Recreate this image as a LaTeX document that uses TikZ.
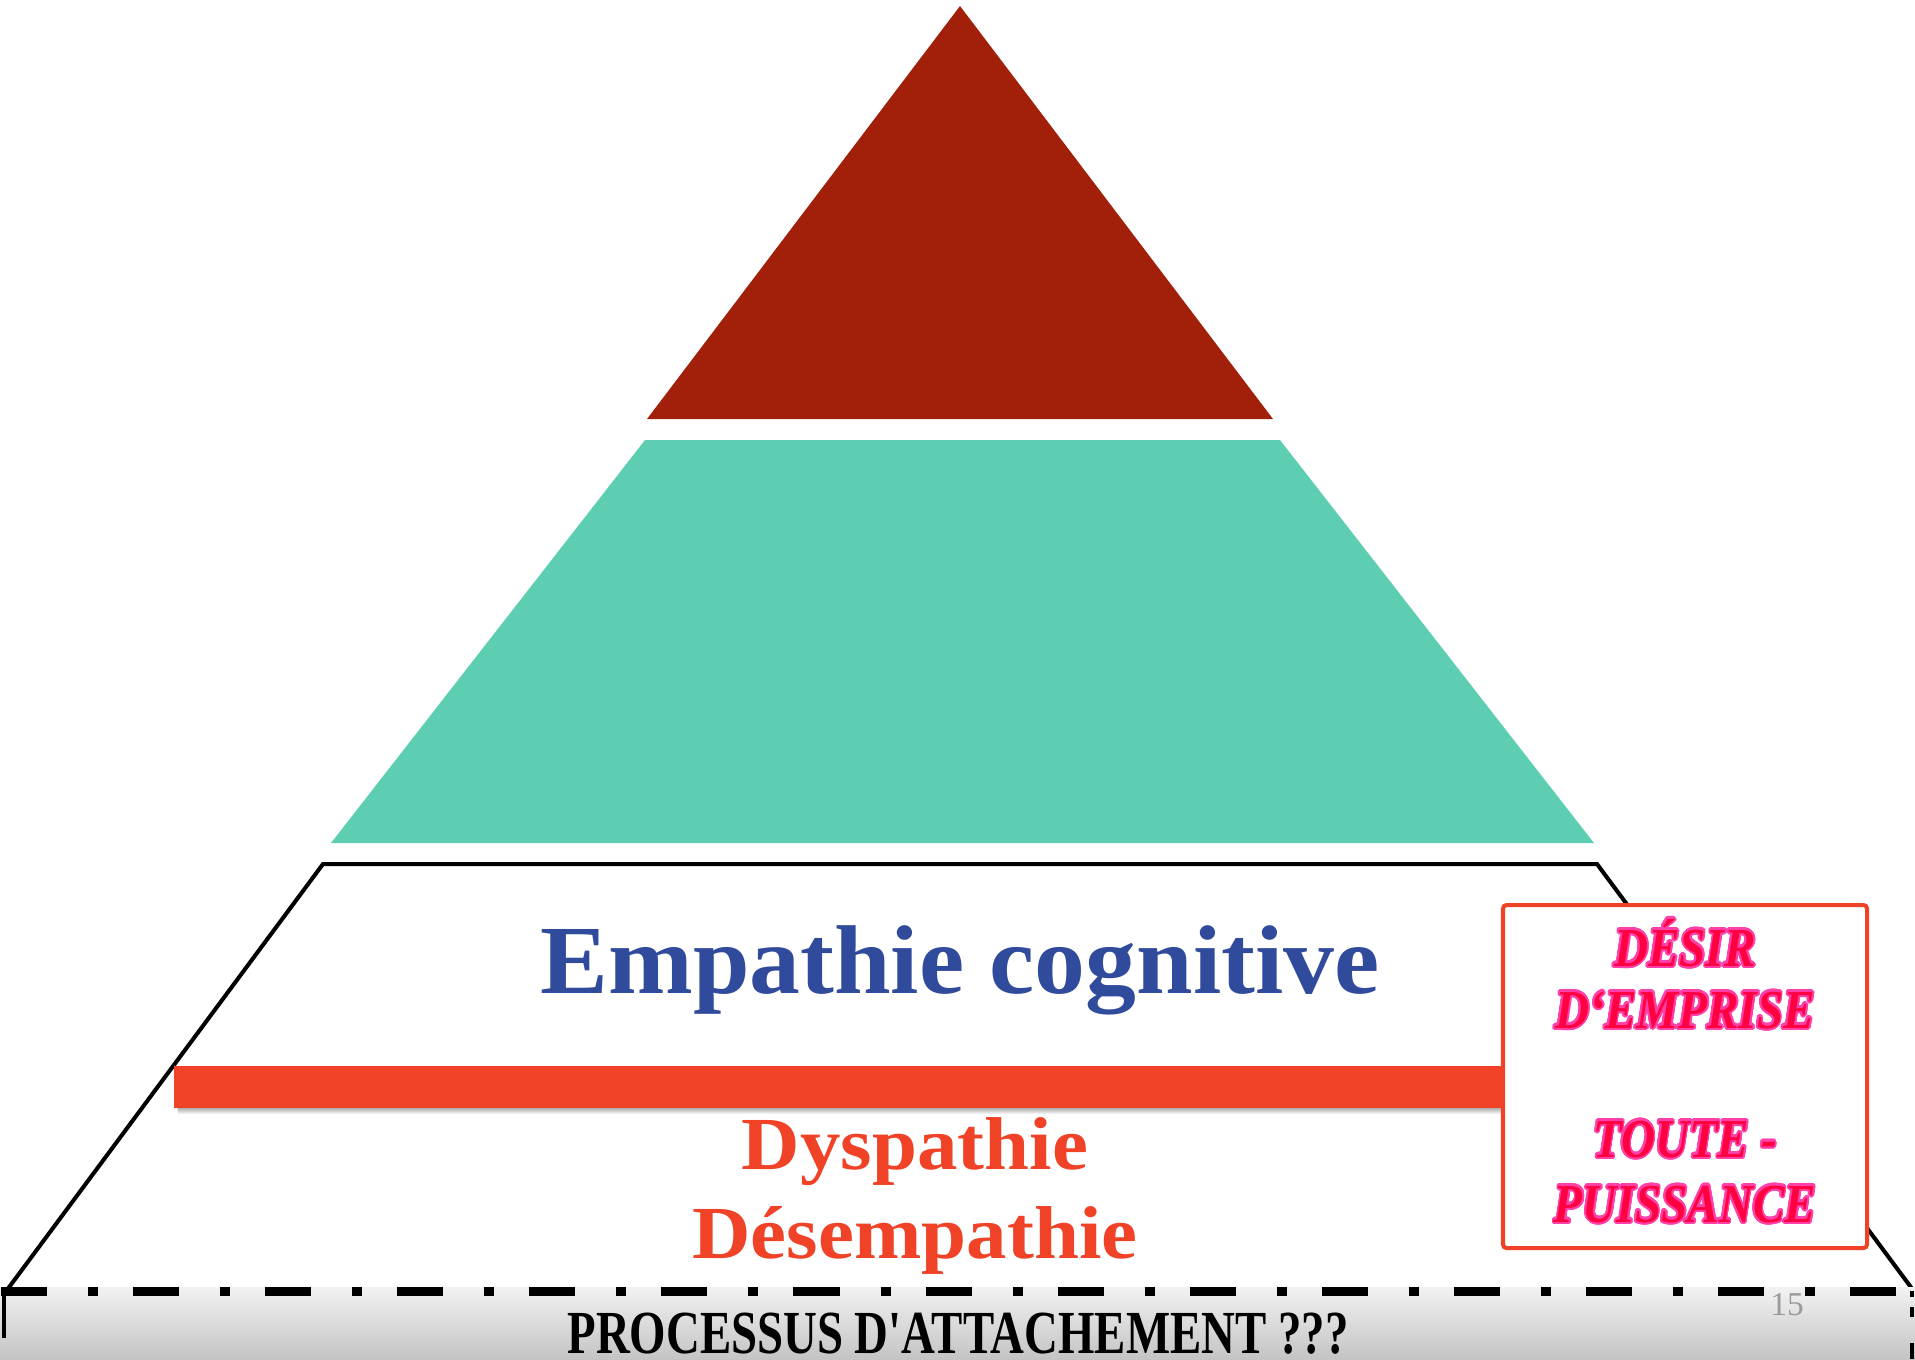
\documentclass[tikz,border=0pt]{standalone}
\usepackage{fontspec}
\setmainfont{Liberation Serif}
\newfontfamily\footfont{Liberation Serif}[Ligatures=TeXOff]
\usepackage{contour}
\contourlength{0.6pt}
\contournumber{24}
\definecolor{apexred}{HTML}{A21F0A}
\definecolor{teal}{HTML}{5ECEB2}
\definecolor{barred}{HTML}{EF4226}
\definecolor{titleblue}{HTML}{304A9C}
\definecolor{boxred}{HTML}{FF0040}
\definecolor{boxpink}{HTML}{FF40A8}
\definecolor{numgray}{HTML}{9A9A9A}
\tikzset{
  outline/.style={draw=black, line width=1.15pt, line join=miter},
  bigtitle/.style={text=titleblue, font=\fontsize{27.8pt}{33pt}\selectfont\bfseries, xscale=1.04, anchor=base, inner sep=0pt},
  redtitle/.style={text=barred, font=\fontsize{21.3pt}{25pt}\selectfont\bfseries, xscale=1.08, anchor=base, inner sep=0pt},
  boxtxt/.style={text=boxred, font=\fontsize{15.6pt}{18pt}\selectfont\bfseries\itshape, xscale=0.86, anchor=base, inner sep=0pt},
  foottxt/.style={text=black, font=\footfont\fontsize{17.4pt}{20pt}\selectfont\bfseries, xscale=0.765, anchor=base, inner sep=0pt},
  dashdot/.style={line width=2.56pt, dash pattern=on 0.46cm off 0.41cm on 0.10cm off 0.35cm}
}
\begin{document}
\begin{tikzpicture}[x=0.01cm,y=-0.01cm]
\useasboundingbox (0,0) rectangle (1915,1359);
% top triangle
\fill[apexred] (960,6) -- (1273,419) -- (647,419) -- cycle;
% middle trapezoid
\fill[teal] (645,440) -- (1280,440) -- (1594,843) -- (331,843) -- cycle;
% lower outlined trapezoid
\draw[outline] (7,1290) -- (323,864) -- (1597,864) -- (1913,1290);
% red bar with soft shadow
\foreach \d in {1,...,6}{
  \fill[black, opacity=0.06] (176+\d*0.4,1066+\d) rectangle (1504,1108+\d);
}
\fill[barred] (174,1066) rectangle (1504,1108);
% right box
\draw[draw=barred, fill=white, line width=1.15pt, rounded corners=1pt] (1503,905) rectangle (1867,1248);
\node[boxtxt] (desir) at (1685,966) {\contour{boxpink}{DÉSIR}};
\node[boxtxt] (emprise) at (1685,1028) {\contour{boxpink}{D‘EMPRISE}};
\node[boxtxt] (toute) at (1685,1157) {\contour{boxpink}{TOUTE -}};
\node[boxtxt] (puissance) at (1685,1222) {\contour{boxpink}{PUISSANCE}};
% texts in lower level
\node[bigtitle] (empathie) at (960,993) {Empathie cognitive};
\node[redtitle] (dys) at (915,1169) {Dyspathie};
\node[redtitle] (desemp) at (915,1258) {Désempathie};
% bottom grey band
\shade[top color={rgb,255:red,242;green,242;blue,242}, bottom color={rgb,255:red,196;green,196;blue,196}] (0,1287) rectangle (1915,1359);
\draw[dashdot] (1,1291) -- (1915,1291);
\draw[line width=1.4pt] (4,1287) -- (4,1338);
\draw[line width=1.4pt] (1912,1291) -- (1912,1297);
\draw[line width=1.4pt] (1912,1307) -- (1912,1317);
\draw[line width=1.4pt] (1912,1343) -- (1912,1359);
\node[foottxt] (processus) at (958,1353) {PROCESSUS D'ATTACHEMENT ???};
\node[text=numgray, font=\fontsize{9.5pt}{11pt}\selectfont, anchor=base, inner sep=0pt] (pagenum) at (1787,1315) {15};
\end{tikzpicture}
\end{document}
